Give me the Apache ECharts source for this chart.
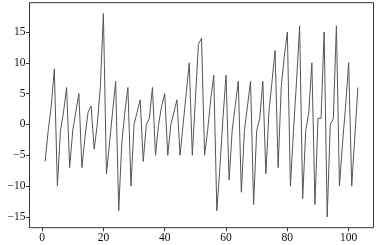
<!DOCTYPE html>
<html>
<head>
<meta charset="utf-8">
<script src="https://cdn.jsdelivr.net/npm/echarts@6/dist/echarts.min.js"></script>
<style>html,body{margin:0;padding:0;background:#fff}#c{width:377px;height:245px}</style>
</head>
<body>
<div id="c"></div>
<script>
var xValues = [];
for (var i = 1; i <= 103; i++) xValues.push(i);
var yValues = [-6,-1,3,9,-10,-1,2,6,-7,-1,2,5,-7,-2,2,3,-4,0,6,18,
  -8,-3,2,7,-14,-3,2,6,-10,0,2,4,-6,0,1,6,-5,0,3,5,
  -5,0,2,4,-5,0,5,10,-5,4,13,14,-5,-1,4,8,-14,-7,1,8,
  -9,-1,3,7,-11,-1,3,7,-13,-1,1,7,-8,2,7,12,-7,6,11,15,
  -10,-1,7,16,-12,-1,2,10,-13,1,1,15,-15,0,1,16,-10,-3,3,10,
  -10,-2,6];
var xTicks = [0,20,40,60,80,100];
var yTicks = [-15,-10,-5,0,5,10,15];

var pts = xValues.map(function(x, i){ return [x, yValues[i]]; });
var font = 'Liberation Serif';
var chart = echarts.init(document.getElementById('c'), null, {renderer:'canvas'});
chart.setOption({
  animation:false,
  grid:{left:29.5,right:3.5,top:2.7,bottom:17.3,show:true,borderColor:'#333',borderWidth:1,backgroundColor:'transparent'},
  xAxis:{type:'value',min:-4.1,max:108.1,
    axisLine:{show:false,onZero:false},splitLine:{show:false},
    axisTick:{show:true,inside:false,length:3.5,lineStyle:{color:'#333'},customValues:xTicks},
    axisLabel:{customValues:xTicks,margin:4,color:'#111',fontFamily:font,fontSize:11.5}},
  yAxis:{type:'value',min:-16.75,max:19.75,
    axisLine:{show:false,onZero:false},splitLine:{show:false},
    axisTick:{show:true,inside:false,length:3.5,lineStyle:{color:'#333'},customValues:yTicks},
    axisLabel:{customValues:yTicks,margin:4,color:'#111',fontFamily:font,fontSize:11.5,
      formatter:function(v){return v<0?'\u2212'+Math.abs(v):String(v);}}},
  series:[{type:'line',data:pts,symbol:'none',lineStyle:{color:'#555',width:1}}]
});
</script>
</body>
</html>
